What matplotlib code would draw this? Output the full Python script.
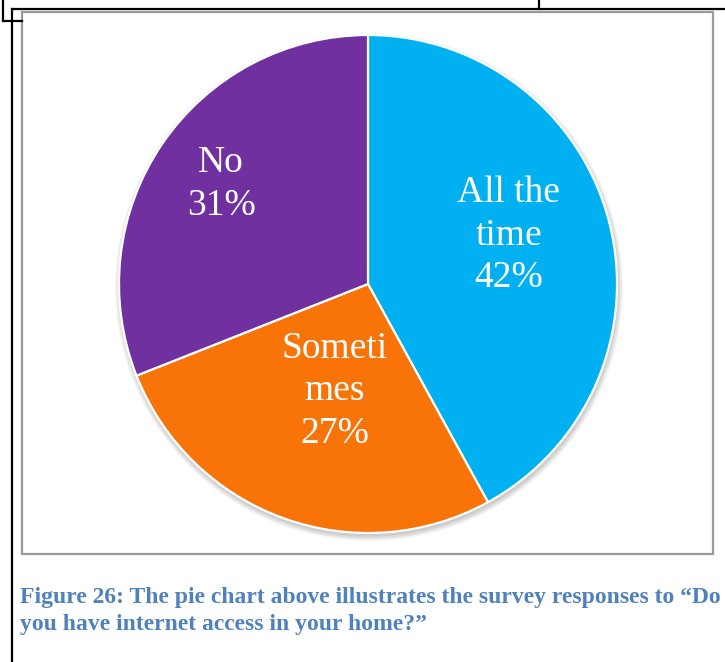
import matplotlib
matplotlib.use("Agg")

import matplotlib.pyplot as plt
from matplotlib.lines import Line2D
from matplotlib.patches import Rectangle, Circle

# ------------------ DATA ------------------

labels = ["All the\ntime", "Someti\nmes", "No"]
shares = [42, 27, 31]
colors = ["#00B0F0", "#F97408", "#7030A0"]
label_pos = [(0.565, 0.195), (-0.135, -0.43), (-0.59, 0.40)]

caption_lines = [
    "Figure 26: The pie chart above illustrates the survey responses to \u201cDo",
    "you have internet access in your home?\u201d",
]

W, H = 725, 662


def fx(x):
    return x / W


def fy(y):
    return 1 - y / H


fig = plt.figure(figsize=(W / 100, H / 100), dpi=100)
fig.patch.set_facecolor("white")

# ------------------ PAGE FRAME LINES ------------------

black_lines = [
    ((12, 725), (9, 9)),
    ((12, 12), (9, 662)),
    ((3, 3), (0, 21)),
    ((3, 22), (21, 21)),
    ((539, 539), (0, 9)),
]
for xs, ys in black_lines:
    fig.add_artist(Line2D([fx(x) for x in xs], [fy(y) for y in ys],
                          transform=fig.transFigure, color="black", lw=1.6))

# grey chart box
fig.add_artist(Rectangle((fx(22), fy(554)), fx(713) - fx(22), fy(12) - fy(554),
                         transform=fig.transFigure, fill=False,
                         edgecolor="#9A9A9A", lw=1.6))

# ------------------ PIE ------------------

cx, cy, r = 368, 284, 249
ax = fig.add_axes([fx(cx - r), fy(cy + r), 2 * r / W, 2 * r / H])

# soft shadow under the pie
for i in range(6):
    ax.add_patch(Circle((0.004, -0.012), 1.0 + i * 0.004, color="black",
                        alpha=0.035, lw=0, zorder=0, clip_on=False))

wedges, _ = ax.pie(shares, colors=colors, startangle=90, counterclock=False,
                   radius=1.0, wedgeprops=dict(edgecolor="white", linewidth=1.6),
                   frame=True)
for w in wedges:
    w.set_clip_on(False)
ax.set_xlim(-1, 1)
ax.set_ylim(-1, 1)
ax.set_aspect("auto")
ax.axis("off")

for lab, val, (x, y) in zip(labels, shares, label_pos):
    ax.text(x, y, f"{lab}\n{val}%", ha="center", va="center", color="white",
            fontsize=27, family="Liberation Serif", linespacing=1.3)

# ------------------ CAPTION ------------------

for line, base in zip(caption_lines, [603, 630]):
    fig.text(fx(20), fy(base), line, ha="left", va="baseline",
             color="#4F81BD", fontsize=17, fontweight="bold",
             family="Liberation Serif")

fig.savefig("out.png", dpi=100)
plt.close(fig)
